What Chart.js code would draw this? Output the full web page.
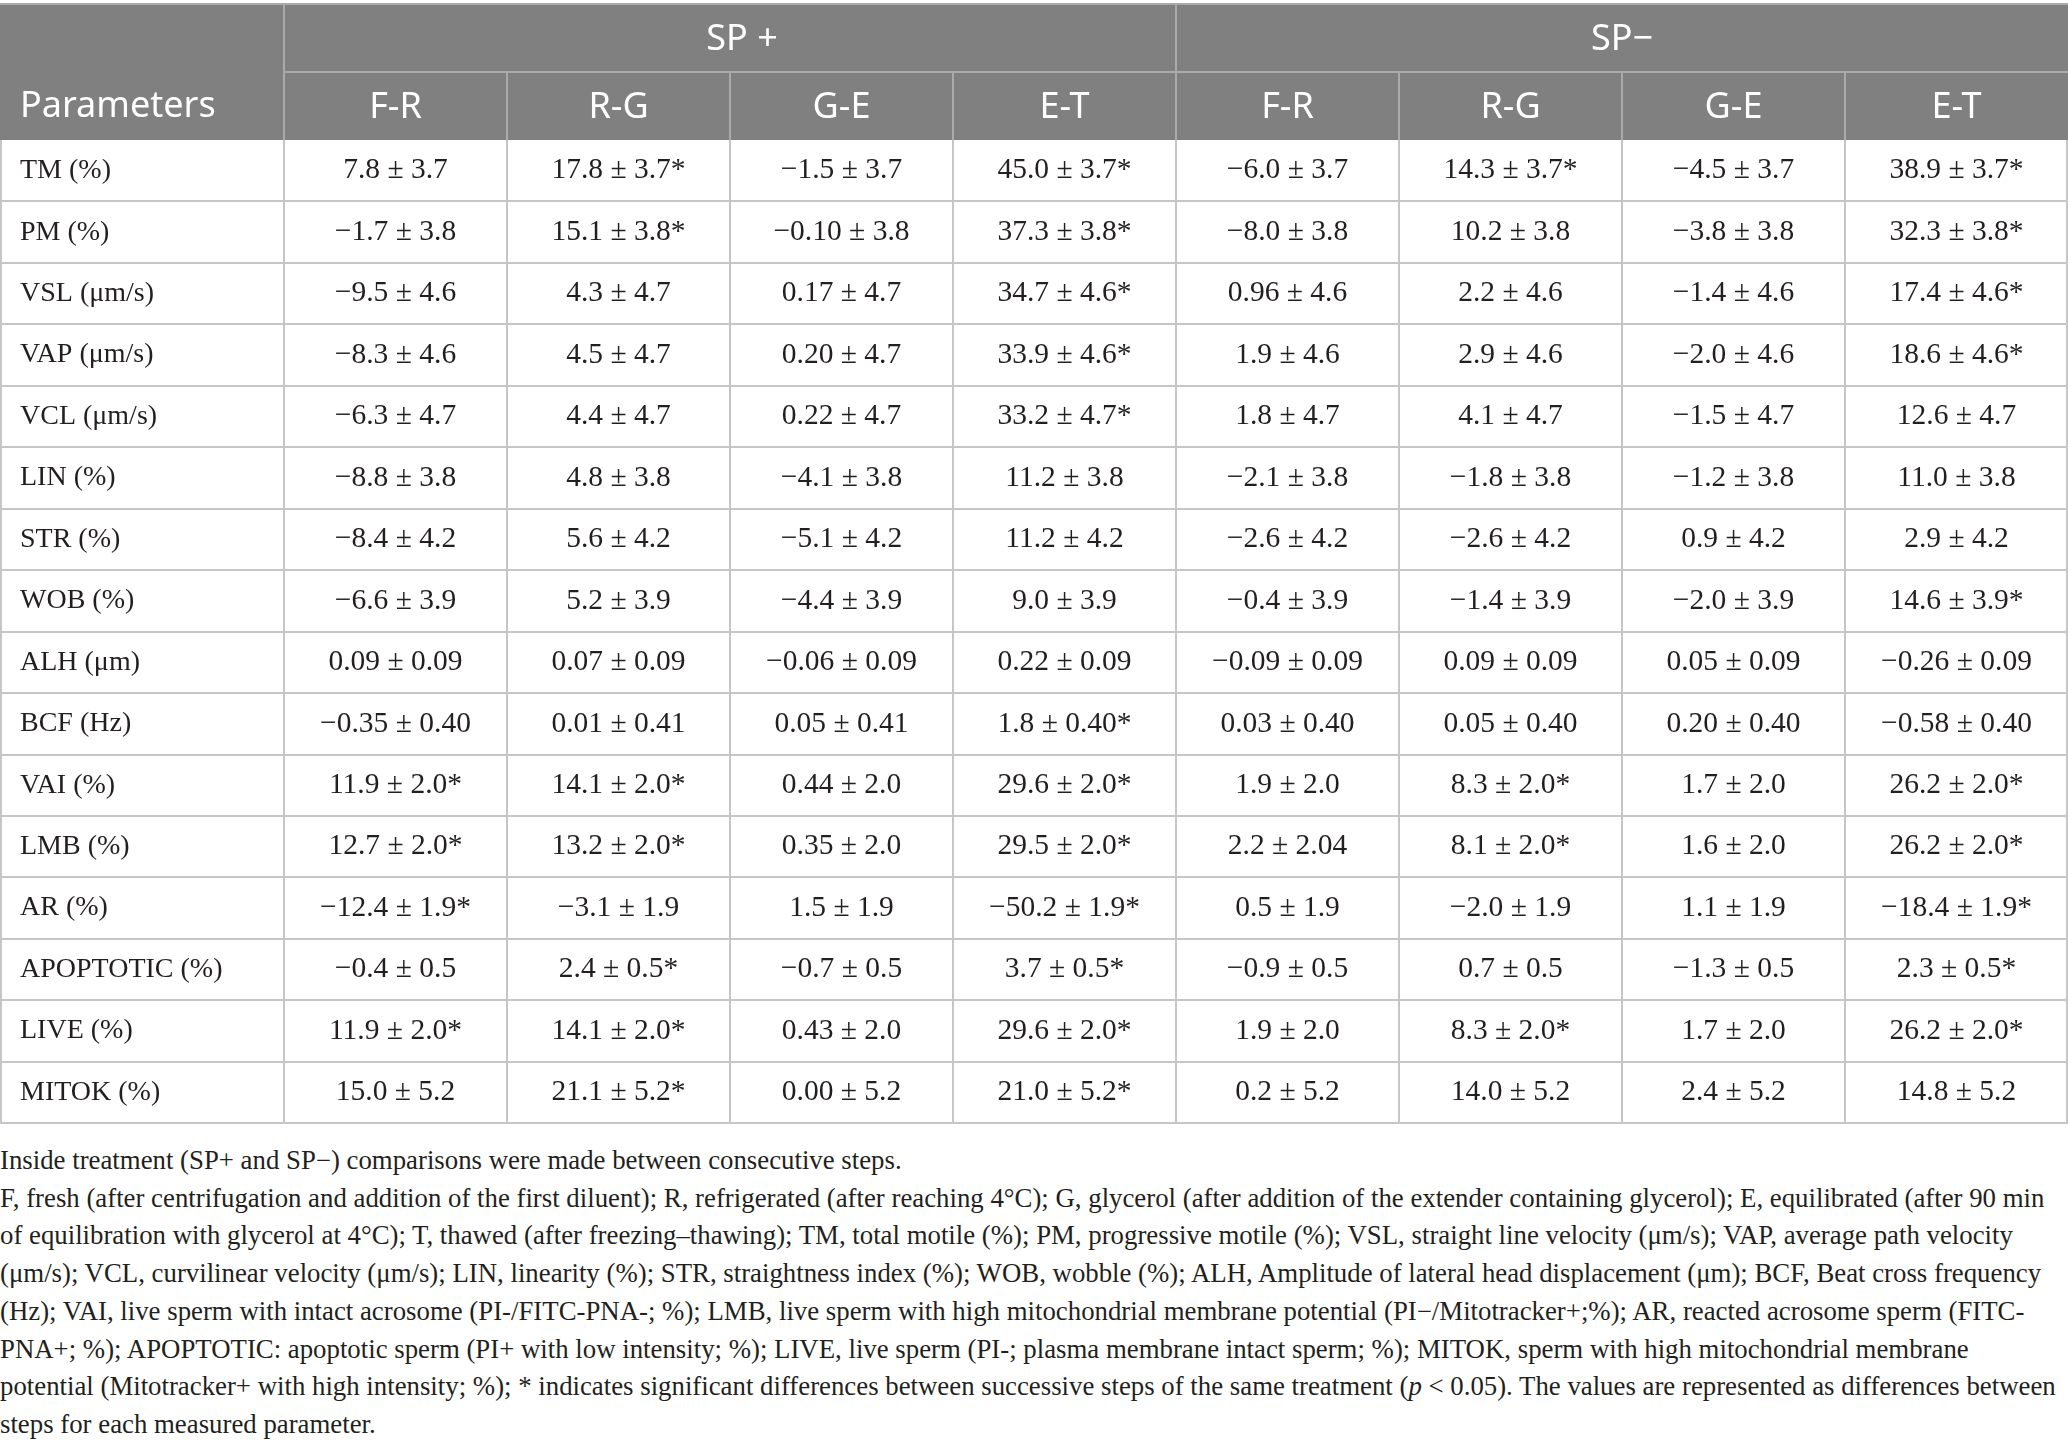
<!DOCTYPE html>
<html>
<head>
<meta charset="utf-8">
<script src="https://cdn.jsdelivr.net/npm/chart.js@4.4.1/dist/chart.umd.min.js"></script>
<style>
  html, body { margin: 0; padding: 0; background: #fff; overflow: hidden; }
  #wrap { position: absolute; left: 0; top: 0; width: 2068px; height: 1140px; }
  #notes {
    position: absolute; left: 0; top: 1142px; width: 2068px;
    font-family: "Liberation Serif", serif; font-size: 26.8px; line-height: 37.7px;
    color: #231f20; white-space: nowrap;
  }
</style>
</head>
<body>
<div id="wrap"><canvas id="tabela"></canvas></div>
<div id="notes">
Inside treatment (SP+ and SP−) comparisons were made between consecutive steps.<br>
F, fresh (after centrifugation and addition of the first diluent); R, refrigerated (after reaching 4°C); G, glycerol (after addition of the extender containing glycerol); E, equilibrated (after 90 min<br>
of equilibration with glycerol at 4°C); T, thawed (after freezing–thawing); TM, total motile (%); PM, progressive motile (%); VSL, straight line velocity (μm/s); VAP, average path velocity<br>
(μm/s); VCL, curvilinear velocity (μm/s); LIN, linearity (%); STR, straightness index (%); WOB, wobble (%); ALH, Amplitude of lateral head displacement (μm); BCF, Beat cross frequency<br>
(Hz); VAI, live sperm with intact acrosome (PI-/FITC-PNA-; %); LMB, live sperm with high mitochondrial membrane potential (PI−/Mitotracker+;%); AR, reacted acrosome sperm (FITC-<br>
PNA+; %); APOPTOTIC: apoptotic sperm (PI+ with low intensity; %); LIVE, live sperm (PI-; plasma membrane intact sperm; %); MITOK, sperm with high mitochondrial membrane<br>
potential (Mitotracker+ with high intensity; %); * indicates significant differences between successive steps of the same treatment (<i>p</i> &lt; 0.05). The values are represented as differences between<br>
steps for each measured parameter.
</div>
<script>
// Tabela: diferenças entre etapas (SP+ e SP−)
const grupos = ['SP +', 'SP−'];
const etapas = ['F-R', 'R-G', 'G-E', 'E-T', 'F-R', 'R-G', 'G-E', 'E-T'];
const parametros = ['TM (%)', 'PM (%)', 'VSL (μm/s)', 'VAP (μm/s)', 'VCL (μm/s)', 'LIN (%)', 'STR (%)', 'WOB (%)',
    'ALH (μm)', 'BCF (Hz)', 'VAI (%)', 'LMB (%)', 'AR (%)', 'APOPTOTIC (%)', 'LIVE (%)', 'MITOK (%)'];

const spMaisFR = ['7.8 ± 3.7', '−1.7 ± 3.8', '−9.5 ± 4.6', '−8.3 ± 4.6', '−6.3 ± 4.7', '−8.8 ± 3.8', '−8.4 ± 4.2', '−6.6 ± 3.9',
    '0.09 ± 0.09', '−0.35 ± 0.40', '11.9 ± 2.0*', '12.7 ± 2.0*', '−12.4 ± 1.9*', '−0.4 ± 0.5', '11.9 ± 2.0*', '15.0 ± 5.2'];
const spMaisRG = ['17.8 ± 3.7*', '15.1 ± 3.8*', '4.3 ± 4.7', '4.5 ± 4.7', '4.4 ± 4.7', '4.8 ± 3.8', '5.6 ± 4.2', '5.2 ± 3.9',
    '0.07 ± 0.09', '0.01 ± 0.41', '14.1 ± 2.0*', '13.2 ± 2.0*', '−3.1 ± 1.9', '2.4 ± 0.5*', '14.1 ± 2.0*', '21.1 ± 5.2*'];
const spMaisGE = ['−1.5 ± 3.7', '−0.10 ± 3.8', '0.17 ± 4.7', '0.20 ± 4.7', '0.22 ± 4.7', '−4.1 ± 3.8', '−5.1 ± 4.2', '−4.4 ± 3.9',
    '−0.06 ± 0.09', '0.05 ± 0.41', '0.44 ± 2.0', '0.35 ± 2.0', '1.5 ± 1.9', '−0.7 ± 0.5', '0.43 ± 2.0', '0.00 ± 5.2'];
const spMaisET = ['45.0 ± 3.7*', '37.3 ± 3.8*', '34.7 ± 4.6*', '33.9 ± 4.6*', '33.2 ± 4.7*', '11.2 ± 3.8', '11.2 ± 4.2', '9.0 ± 3.9',
    '0.22 ± 0.09', '1.8 ± 0.40*', '29.6 ± 2.0*', '29.5 ± 2.0*', '−50.2 ± 1.9*', '3.7 ± 0.5*', '29.6 ± 2.0*', '21.0 ± 5.2*'];
const spMenosFR = ['−6.0 ± 3.7', '−8.0 ± 3.8', '0.96 ± 4.6', '1.9 ± 4.6', '1.8 ± 4.7', '−2.1 ± 3.8', '−2.6 ± 4.2', '−0.4 ± 3.9',
    '−0.09 ± 0.09', '0.03 ± 0.40', '1.9 ± 2.0', '2.2 ± 2.04', '0.5 ± 1.9', '−0.9 ± 0.5', '1.9 ± 2.0', '0.2 ± 5.2'];
const spMenosRG = ['14.3 ± 3.7*', '10.2 ± 3.8', '2.2 ± 4.6', '2.9 ± 4.6', '4.1 ± 4.7', '−1.8 ± 3.8', '−2.6 ± 4.2', '−1.4 ± 3.9',
    '0.09 ± 0.09', '0.05 ± 0.40', '8.3 ± 2.0*', '8.1 ± 2.0*', '−2.0 ± 1.9', '0.7 ± 0.5', '8.3 ± 2.0*', '14.0 ± 5.2'];
const spMenosGE = ['−4.5 ± 3.7', '−3.8 ± 3.8', '−1.4 ± 4.6', '−2.0 ± 4.6', '−1.5 ± 4.7', '−1.2 ± 3.8', '0.9 ± 4.2', '−2.0 ± 3.9',
    '0.05 ± 0.09', '0.20 ± 0.40', '1.7 ± 2.0', '1.6 ± 2.0', '1.1 ± 1.9', '−1.3 ± 0.5', '1.7 ± 2.0', '2.4 ± 5.2'];
const spMenosET = ['38.9 ± 3.7*', '32.3 ± 3.8*', '17.4 ± 4.6*', '18.6 ± 4.6*', '12.6 ± 4.7', '11.0 ± 3.8', '2.9 ± 4.2', '14.6 ± 3.9*',
    '−0.26 ± 0.09', '−0.58 ± 0.40', '26.2 ± 2.0*', '26.2 ± 2.0*', '−18.4 ± 1.9*', '2.3 ± 0.5*', '26.2 ± 2.0*', '14.8 ± 5.2'];

const colunas = [spMaisFR, spMaisRG, spMaisGE, spMaisET, spMenosFR, spMenosRG, spMenosGE, spMenosET];

const corCabecalho = '#7f807f';
const corLinhaCab = '#a9aaa9';
const corGrade = '#c6c6c6';
const corTexto = '#231f20';
const fonteSerif = '"Liberation Serif", "DejaVu Serif", serif';
const fonteSans = '"Noto Sans", "Open Sans", sans-serif';

// fundo do cabeçalho, grade e textos das células
const gradePlugin = {
    id: 'grade',
    beforeDraw(chart) {
        const ctx = chart.ctx;
        const x = chart.scales.x;
        ctx.save();
        ctx.fillStyle = corCabecalho;
        ctx.fillRect(0, x.top, chart.width, x.bottom - x.top);
        ctx.restore();
    },
    beforeDatasetsDraw(chart) {
        const ctx = chart.ctx;
        const x = chart.scales.x, y = chart.scales.y;
        const topo = chart.chartArea.top, base = y.getPixelForValue(parametros.length - 0.5);
        ctx.save();
        ctx.strokeStyle = corGrade;
        ctx.lineWidth = 2;
        ctx.beginPath();
        for (let r = 0; r < parametros.length; r++) {
            const py = Math.round(y.getPixelForValue(r + 0.5));
            ctx.moveTo(0, py); ctx.lineTo(chart.width, py);
        }
        const verticais = [1, chart.chartArea.left, chart.width - 1];
        for (let c = 0; c < etapas.length - 1; c++) verticais.push(x.getPixelForValue(c + 0.5));
        verticais.forEach(px => {
            px = Math.round(px);
            ctx.moveTo(px, topo); ctx.lineTo(px, base);
        });
        ctx.stroke();
        ctx.restore();
    },
    afterDatasetsDraw(chart) {
        const ctx = chart.ctx;
        ctx.save();
        ctx.fillStyle = corTexto;
        ctx.font = '29.5px ' + fonteSerif;
        ctx.textAlign = 'center';
        ctx.textBaseline = 'middle';
        chart.data.datasets.forEach((ds, i) => {
            chart.getDatasetMeta(i).data.forEach((pt, r) => {
                ctx.fillText(colunas[i][r], pt.x, pt.y);
            });
        });
        ctx.restore();
    },
    afterDraw(chart) {
        const ctx = chart.ctx;
        const x = chart.scales.x;
        const meio = Math.round((x.top + x.bottom) / 2);
        const esq = chart.chartArea.left;
        ctx.save();
        ctx.strokeStyle = corLinhaCab;
        ctx.lineWidth = 2;
        ctx.beginPath();
        ctx.moveTo(0, x.top); ctx.lineTo(chart.width, x.top);
        ctx.moveTo(esq, meio); ctx.lineTo(chart.width, meio);
        ctx.moveTo(esq, x.top); ctx.lineTo(esq, x.bottom);
        const divisao = Math.round(x.getPixelForValue(3.5));
        ctx.moveTo(divisao, x.top); ctx.lineTo(divisao, x.bottom);
        for (let c = 0; c < etapas.length - 1; c++) {
            if (c === 3) continue;
            const px = Math.round(x.getPixelForValue(c + 0.5));
            ctx.moveTo(px, meio); ctx.lineTo(px, x.bottom);
        }
        ctx.stroke();

        ctx.fillStyle = '#ffffff';
        ctx.font = '36px ' + fonteSans;
        ctx.textBaseline = 'middle';
        ctx.textAlign = 'center';
        const yGrupo = (x.top + meio) / 2 + 2;
        ctx.fillText(grupos[0], (x.getPixelForValue(-0.5) + x.getPixelForValue(3.5)) / 2 + 12, yGrupo);
        ctx.fillText(grupos[1], (x.getPixelForValue(3.5) + x.getPixelForValue(7.5)) / 2, yGrupo);
        ctx.textAlign = 'left';
        ctx.fillText('Parameters', 20, (meio + x.bottom) / 2 + 1);
        ctx.restore();
    }
};

const ctx = document.getElementById('tabela').getContext('2d');
const tabela = new Chart(ctx, {
    type: 'scatter',
    data: {
        datasets: colunas.map((col, i) => ({
            label: etapas[i],
            data: col.map((v, r) => ({ x: i, y: r })),
            pointRadius: 0
        }))
    },
    plugins: [gradePlugin],
    options: {
        responsive: true,
        maintainAspectRatio: false,
        animation: false,
        events: [],
        layout: { padding: { top: 4, left: 20, right: 0, bottom: 8 } },
        plugins: {
            legend: { display: false },
            tooltip: { enabled: false }
        },
        scales: {
            x: {
                type: 'linear',
                position: 'top',
                min: -0.5,
                max: etapas.length - 0.5,
                afterFit: (s) => { s.height = 136; },
                afterBuildTicks: (s) => { s.ticks = etapas.map((e, i) => ({ value: i })); },
                grid: { display: false, drawTicks: false },
                border: { display: false },
                ticks: {
                    color: '#ffffff',
                    font: { family: fonteSans, size: 36 },
                    padding: 11,
                    maxRotation: 0,
                    autoSkip: false,
                    callback: (v) => etapas[v]
                }
            },
            y: {
                type: 'linear',
                reverse: true,
                min: -0.5,
                max: parametros.length - 0.5,
                afterFit: (s) => { s.width = 264; },
                afterBuildTicks: (s) => { s.ticks = parametros.map((p, i) => ({ value: i })); },
                grid: { display: false, drawTicks: false },
                border: { display: false },
                ticks: {
                    color: corTexto,
                    font: { family: fonteSerif, size: 28 },
                    crossAlign: 'far',
                    padding: 0,
                    autoSkip: false,
                    callback: (v) => parametros[v]
                }
            }
        }
    }
});
</script>
</body>
</html>
